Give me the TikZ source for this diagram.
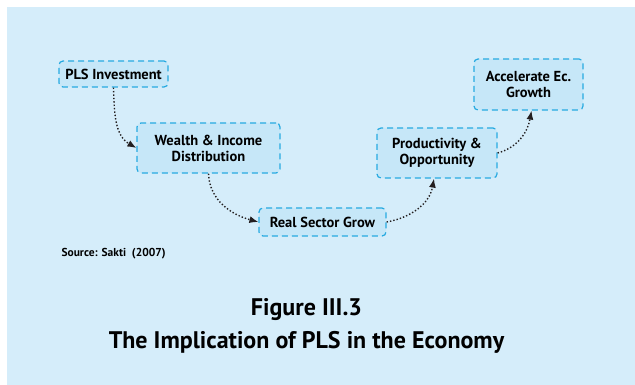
\documentclass[tikz,border=0pt]{standalone}
\usepackage{fontspec}
\setmainfont{PT Sans}
\usepackage{tikz}
\usetikzlibrary{arrows.meta}
\definecolor{bgblue}{HTML}{D5EDFA}
\definecolor{boxblue}{HTML}{C6E7F8}
\definecolor{edgeblue}{HTML}{27AAE1}
\definecolor{ink}{HTML}{231F20}
\begin{document}
\begin{tikzpicture}[x=1pt,y=-1pt,
        font=\bfseries\color{ink},
        box/.style={draw=edgeblue,fill=boxblue,line width=1.2pt,
            dash pattern=on 6pt off 4pt,rounded corners=4pt,
            align=center,inner sep=2pt,font=\fontsize{14.5}{16}\selectfont\bfseries},
        flow/.style={draw=ink,line width=1.4pt,dash pattern=on 1.4pt off 2pt,
            -{Latex[length=9pt,width=7pt]}},
			]
		\useasboundingbox (0,0) rectangle (635,385);
		\fill [bgblue] (7,7) rectangle (635,385);
        % the five steps
		\node [box,minimum width=109pt,minimum height=26pt] (pls) at (113.5,74) {PLS Investment};
		\node [box,minimum width=143pt,minimum height=50pt] (wealth) at (208.5,148) {Wealth \& Income\\Distribution};
		\node [box,minimum width=127pt,minimum height=28pt] (real) at (322.5,222) {Real Sector Grow};
		\node [box,minimum width=120pt,minimum height=50pt] (prod) at (437,153) {Productivity \&\\Opportunity};
		\node [box,minimum width=109pt,minimum height=51pt] (accel) at (528.5,84.5) {Accelerate Ec.\\Growth};
        % dotted links
		\draw [flow] (pls.south) to[out=-88,in=150] (wealth.west);
		\draw [flow] (wealth.south) to[out=-88,in=165] (real.west);
		\draw [flow] (real.east) to[out=10,in=-100] ([xshift=-3pt]prod.south);
		\draw [flow] (prod.east) to[out=15,in=-100] ([xshift=3pt]accel.south);
        % source and caption
		\node [anchor=base west,font=\fontsize{11.5}{13}\selectfont\bfseries] (src) at (58,256) {Source: Sakti\ \ (2007)};
		\node [font=\fontsize{24}{28}\selectfont\bfseries] (fig) at (306.5,310) {Figure III.3};
		\node [font=\fontsize{24}{28}\selectfont\bfseries] (title) at (306.5,342) {The Implication of PLS in the Economy};
	\end{tikzpicture}
\end{document}
